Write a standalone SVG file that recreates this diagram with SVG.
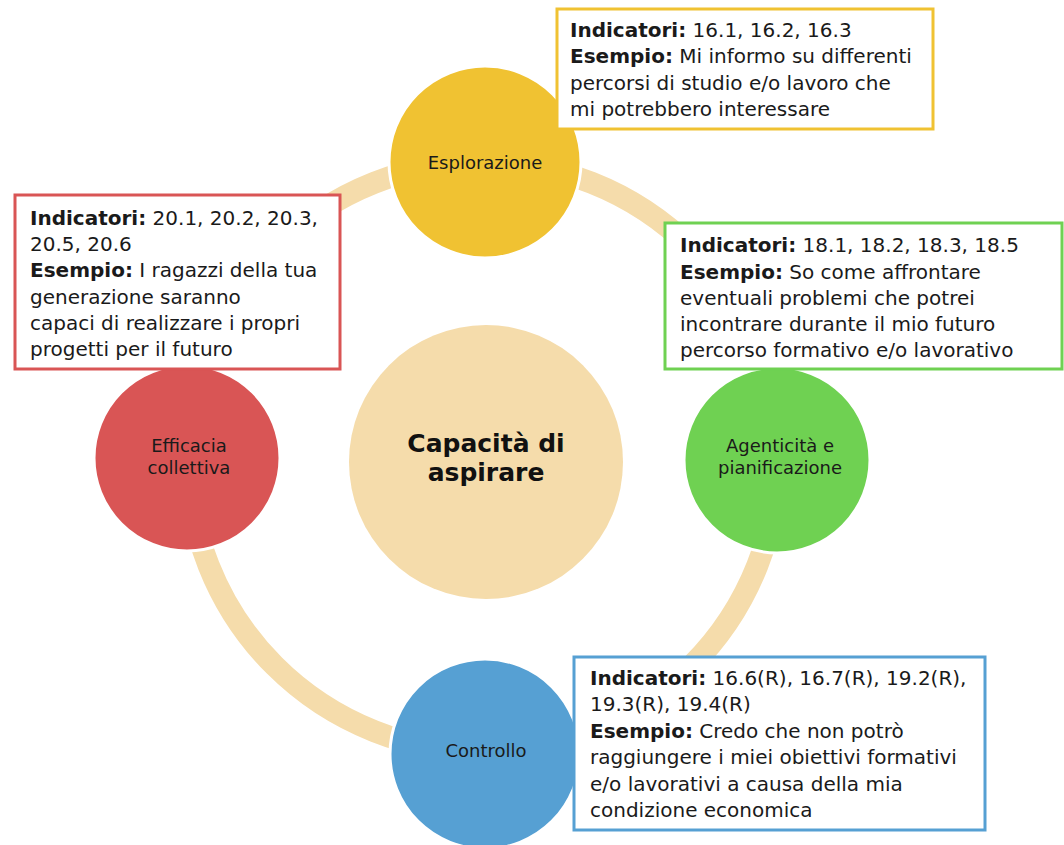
<svg xmlns="http://www.w3.org/2000/svg" width="1064" height="845" viewBox="0 0 1064 845">
<style>
.ring{fill:none;stroke:#F5DCAB;stroke-width:22}
.node{stroke:#fff;stroke-width:3}
.lbl{font-family:"DejaVu Sans",sans-serif;font-size:18px;fill:#1a1a1a;text-anchor:middle}
.ctr{font-family:"DejaVu Sans",sans-serif;font-size:25px;font-weight:bold;fill:#111;text-anchor:middle}
.box{fill:#fff;stroke-width:3}
.bt{font-family:"DejaVu Sans",sans-serif;font-size:20px;fill:#1a1a1a}
.b{font-weight:bold}
</style>
<rect width="1064" height="845" fill="#fff"/>
<g id="connectors">
<circle class="ring" cx="483" cy="457" r="295"/>
</g>
<g id="center">
<circle cx="486" cy="462" r="137" fill="#F5DCAB"/>
<text class="ctr" x="486" y="452">Capacità di</text>
<text class="ctr" x="486" y="481">aspirare</text>
</g>
<g id="esplorazione">
<circle class="node" cx="485" cy="162" r="96" fill="#F0C232"/>
<text class="lbl" x="485" y="169">Esplorazione</text>
</g>
<g id="efficacia">
<circle class="node" cx="187" cy="458" r="93" fill="#D95555"/>
<text class="lbl" x="189" y="452">Efficacia</text>
<text class="lbl" x="189" y="474">collettiva</text>
</g>
<g id="agenticita">
<circle class="node" cx="777" cy="460" r="93" fill="#6FD152"/>
<text class="lbl" x="780" y="452">Agenticità e</text>
<text class="lbl" x="780" y="474">pianificazione</text>
</g>
<g id="controllo">
<circle class="node" cx="485" cy="754" r="95" fill="#56A0D3"/>
<text class="lbl" x="486" y="757">Controllo</text>
</g>
<g id="box-esplorazione">
<rect class="box" x="557" y="9" width="376" height="120" stroke="#F0C232"/>
<text class="bt" x="570" y="37"><tspan class="b">Indicatori:</tspan> 16.1, 16.2, 16.3</text>
<text class="bt" x="570" y="63"><tspan class="b">Esempio:</tspan> Mi informo su differenti</text>
<text class="bt" x="570" y="90">percorsi di studio e/o lavoro che</text>
<text class="bt" x="570" y="116">mi potrebbero interessare</text>
</g>
<g id="box-efficacia">
<rect class="box" x="15" y="195" width="325" height="174" stroke="#D95555"/>
<text class="bt" x="30" y="225"><tspan class="b">Indicatori:</tspan> 20.1, 20.2, 20.3,</text>
<text class="bt" x="30" y="251">20.5, 20.6</text>
<text class="bt" x="30" y="277"><tspan class="b">Esempio:</tspan> I ragazzi della tua</text>
<text class="bt" x="30" y="304">generazione saranno</text>
<text class="bt" x="30" y="330">capaci di realizzare i propri</text>
<text class="bt" x="30" y="356">progetti per il futuro</text>
</g>
<g id="box-agenticita">
<rect class="box" x="665" y="223" width="397" height="146" stroke="#6FD152"/>
<text class="bt" x="680" y="252"><tspan class="b">Indicatori:</tspan> 18.1, 18.2, 18.3, 18.5</text>
<text class="bt" x="680" y="279"><tspan class="b">Esempio:</tspan> So come affrontare</text>
<text class="bt" x="680" y="305">eventuali problemi che potrei</text>
<text class="bt" x="680" y="331">incontrare durante il mio futuro</text>
<text class="bt" x="680" y="357">percorso formativo e/o lavorativo</text>
</g>
<g id="box-controllo">
<rect class="box" x="574" y="657" width="411" height="173" stroke="#56A0D3"/>
<text class="bt" x="590" y="685"><tspan class="b">Indicatori:</tspan> 16.6(R), 16.7(R), 19.2(R),</text>
<text class="bt" x="590" y="711">19.3(R), 19.4(R)</text>
<text class="bt" x="590" y="738"><tspan class="b">Esempio:</tspan> Credo che non potrò</text>
<text class="bt" x="590" y="764">raggiungere i miei obiettivi formativi</text>
<text class="bt" x="590" y="791">e/o lavorativi a causa della mia</text>
<text class="bt" x="590" y="817">condizione economica</text>
</g>
</svg>
